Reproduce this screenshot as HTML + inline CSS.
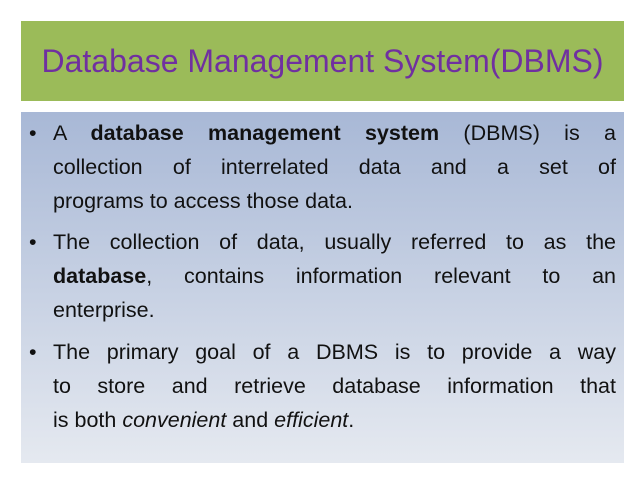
<!DOCTYPE html>
<html><head><meta charset="utf-8"><style>
body{margin:0;width:640px;height:480px;background:#fff;position:relative;overflow:hidden;font-family:"Liberation Sans",sans-serif}
.title{position:absolute;left:21px;top:21px;width:603px;height:80px;background:#9bbb59;color:#7030a0;font-size:32px;line-height:80px;text-align:center}
.body{position:absolute;left:21px;top:112px;width:603px;height:351px;background:linear-gradient(#a8b8d6,#e5e9f0)}
.p{position:absolute;left:32px;width:563px;font-size:21.5px;color:#111;line-height:34px}
.p div{text-align:justify;text-align-last:justify;white-space:nowrap;height:34px}
.p div.l{text-align-last:left}
.b{position:absolute;left:-24px;top:0}
</style></head><body>
<div class="title">Database Management System(DBMS)</div>
<div class="body">
<div class="p" style="top:4px"><span class="b">•</span>
<div>A <b>database management system</b> (DBMS) is a</div>
<div>collection of interrelated data and a set of</div>
<div class="l">programs to access those data.</div></div>
<div class="p" style="top:113px"><span class="b">•</span>
<div>The collection of data, usually referred to as the</div>
<div><b>database</b>, contains information relevant to an</div>
<div class="l">enterprise.</div></div>
<div class="p" style="top:223px"><span class="b">•</span>
<div>The primary goal of a DBMS is to provide a way</div>
<div>to store and retrieve database information that</div>
<div class="l">is both <i>convenient</i> and <i>efficient</i>.</div></div>
</div>
</body></html>
